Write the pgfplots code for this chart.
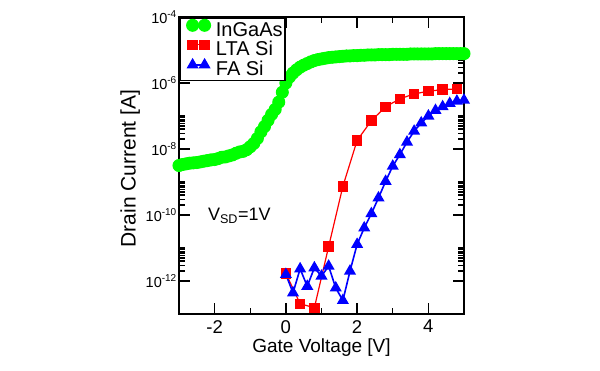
\documentclass[border=0pt]{standalone}
\usepackage{fontspec}
\setmainfont{Liberation Sans}
\usepackage{pgfplots}
\pgfplotsset{compat=1.18}
\definecolor{ggreen}{RGB}{0,255,0}
\definecolor{rred}{RGB}{255,0,0}
\definecolor{bblue}{RGB}{0,0,255}
\newcommand{\ex}[1]{\raisebox{5.5pt}{\fontsize{10}{10}\selectfont #1}}
\begin{document}
\begin{tikzpicture}
\useasboundingbox (0pt,0pt) rectangle (600pt,370pt);
% frame and ticks
\begin{axis}[
  at={(179pt,56pt)}, anchor=south west,
  width=285pt, height=297pt, scale only axis,
  ymode=log,
  xmin=-3, xmax=5, ymin=1e-13, ymax=1e-4,
  xtick={-2,0,2,4}, ytick={1e-12,1e-10,1e-8,1e-6,1e-4},
  xticklabels={}, yticklabels={},
  major tick length=11pt, tick style={black, line width=1.3pt},
  axis line style={line width=1.6pt},
  minor tick num=0,
  extra x ticks={-1,1,3}, extra x tick labels={},
  extra y ticks={2e-12,3e-12,4e-12,5e-12,6e-12,7e-12,8e-12,9e-12,1e-11,
               2e-10,3e-10,4e-10,5e-10,6e-10,7e-10,8e-10,9e-10,1e-9,
               2e-8,3e-8,4e-8,5e-8,6e-8,7e-8,8e-8,9e-8,1e-7,
               2e-6,3e-6,4e-6,5e-6,6e-6,7e-6,8e-6,9e-6,1e-5},
  extra y tick labels={},
  extra tick style={major tick length=6pt, grid=none},
]
\addplot[draw=none, forget plot] coordinates {(0,1e-8)};
\end{axis}
% data, labels, legend
\begin{axis}[
  at={(179pt,56pt)}, anchor=south west,
  width=285pt, height=297pt, scale only axis,
  ymode=log,
  xmin=-3, xmax=5, ymin=1e-13, ymax=1e-4,
  clip=false,
  axis line style={line width=1.6pt},
  major tick length=11pt,
  tick style={black, line width=1.3pt},
  xtick={-2,0,2,4}, xticklabels={-2,0,2,4},
  ytick={1e-12,1e-10,1e-8,1e-6,1e-4},
  yticklabels={10\ex{-12},10\ex{-10},10\ex{-8},10\ex{-6},10\ex{-4}},
  minor tick num=0,
  xticklabel style={font=\fontsize{18.5}{18.5}\selectfont, inner sep=0pt, anchor=north, yshift=-6pt},
  yticklabel style={font=\fontsize{14.5}{14.5}\selectfont, inner sep=0pt, anchor=east, xshift=-2.5pt},
  xlabel={Gate Voltage [V]},
  ylabel={Drain Current [A]},
  xlabel style={font=\fontsize{19}{19}\selectfont, at={(axis description cs:0.5,0)}, anchor=base, yshift=-38pt, inner sep=0pt},
  ylabel style={font=\fontsize{21}{21}\selectfont, at={(axis description cs:-0.152,0.49)}, anchor=base, inner sep=0pt},
  legend cell align=left,
  legend style={at={(0,1)}, anchor=north west, draw=black, fill=white, line width=1.6pt,
    inner xsep=2.5pt, inner ysep=1.5pt,
    font=\fontsize{20}{20}\selectfont,
    nodes={inner sep=0pt, text height=15pt, text depth=3pt},
    row sep=0.8pt, column sep=4.5pt},
  legend image code/.code={%
    \path (-9.5pt,0pt) (18pt,0pt);
    \draw[mark repeat=2, mark phase=1, yshift=5pt] plot coordinates {(0pt,0pt) (6pt,0pt) (12pt,0pt)};},
]
\addplot[ggreen, line width=1pt, mark=*, mark size=6pt, mark options={fill=ggreen, draw=ggreen}] coordinates {
(-3.0,3.16e-9) (-2.9,3.39e-9) (-2.8,3.55e-9) (-2.7,3.72e-9) (-2.6,3.80e-9)
(-2.5,3.89e-9) (-2.4,4.07e-9) (-2.3,4.27e-9) (-2.2,4.47e-9) (-2.1,4.68e-9)
(-2.0,4.79e-9) (-1.9,5.13e-9) (-1.8,5.62e-9) (-1.7,5.75e-9) (-1.6,6.17e-9)
(-1.5,6.61e-9) (-1.4,7.41e-9) (-1.3,8.13e-9) (-1.2,8.51e-9) (-1.1,9.55e-9)
(-1.0,1.17e-8) (-0.9,1.48e-8) (-0.8,2.09e-8) (-0.7,3.31e-8) (-0.6,4.79e-8)
(-0.5,7.41e-8) (-0.4,1.12e-7) (-0.3,1.58e-7) (-0.2,2.63e-7) (-0.1,5.25e-7)
(0.0,1.0e-6) (0.1,1.51e-6) (0.2,2.0e-6) (0.3,2.51e-6) (0.4,3.02e-6)
(0.5,3.47e-6) (0.6,3.89e-6) (0.7,4.37e-6) (0.8,4.79e-6) (0.9,5.13e-6)
(1.0,5.37e-6) (1.1,5.62e-6) (1.2,5.89e-6) (1.3,6.03e-6) (1.4,6.17e-6)
(1.5,6.31e-6) (1.6,6.46e-6) (1.7,6.61e-6) (1.8,6.61e-6) (1.9,6.76e-6)
(2.0,6.76e-6) (2.1,6.92e-6) (2.2,6.92e-6) (2.3,7.08e-6) (2.4,7.08e-6)
(2.5,7.08e-6) (2.6,7.24e-6) (2.7,7.24e-6) (2.8,7.24e-6) (2.9,7.24e-6)
(3.0,7.41e-6) (3.1,7.41e-6) (3.2,7.41e-6) (3.3,7.41e-6) (3.4,7.41e-6)
(3.5,7.59e-6) (3.6,7.59e-6) (3.7,7.59e-6) (3.8,7.59e-6) (3.9,7.59e-6)
(4.0,7.59e-6) (4.1,7.59e-6) (4.2,7.76e-6) (4.3,7.76e-6) (4.4,7.76e-6)
(4.5,7.76e-6) (4.6,7.76e-6) (4.7,7.76e-6) (4.8,7.76e-6) (4.9,7.76e-6)
(5.0,7.76e-6)};
\addlegendentry{InGaAs}
\addplot[rred, line width=1.2pt, mark=square*, mark size=4.6pt, mark options={fill=rred, draw=rred}] coordinates {
(0.0,1.70e-12) (0.4,2.04e-13) (0.8,1.55e-13) (1.2,1.10e-11) (1.6,7.41e-10)
(2.0,1.82e-8) (2.4,7.24e-8) (2.8,1.91e-7) (3.2,3.31e-7) (3.6,4.68e-7)
(4.0,5.62e-7) (4.4,6.31e-7) (4.8,6.61e-7)};
\addlegendentry{LTA Si}
\addplot[bblue, line width=1.6pt, mark=triangle*, mark size=5.4pt, mark options={fill=bblue, draw=bblue}] coordinates {
(0.0,1.58e-12) (0.2,4.37e-13) (0.4,2.34e-12) (0.6,6.92e-13) (0.8,2.51e-12)
(1.0,1.41e-12) (1.2,2.82e-12) (1.4,6.17e-13) (1.6,2.57e-13) (1.8,2.0e-12)
(2.0,1.29e-11) (2.2,4.07e-11) (2.4,1.10e-10) (2.6,3.31e-10) (2.8,1.05e-9)
(3.0,3.02e-9) (3.2,6.76e-9) (3.4,1.62e-8) (3.6,3.47e-8) (3.8,6.17e-8)
(4.0,1.0e-7) (4.2,1.48e-7) (4.4,1.91e-7) (4.6,2.40e-7) (4.8,2.82e-7)
(5.0,3.02e-7)};
\addlegendentry{FA Si}
\node[anchor=base west, inner sep=0pt, font=\fontsize{18}{18}\selectfont] at (axis cs:-2.19,6.76e-11) {V\textsubscript{SD}=1V};
\end{axis}
\end{tikzpicture}
\end{document}
